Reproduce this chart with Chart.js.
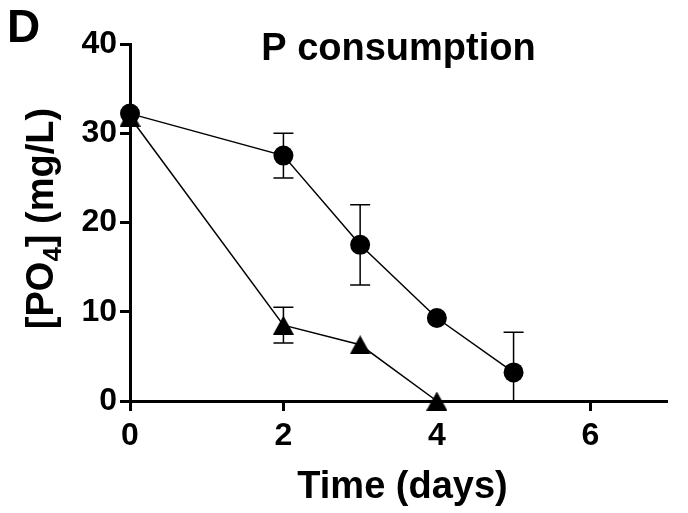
<!DOCTYPE html>
<html lang="en">

<head>
    <meta charset="UTF-8">
    <title>P consumption</title>
    <style>
        html, body { margin: 0; padding: 0; background: #fff; }
        .chart-box { width: 688px; height: 513px; }
    </style>
</head>

<body>
    <div class="chart-box">
        <canvas id="pConsumptionChart" width="688" height="513"></canvas>
    </div>

    <script src="https://cdn.jsdelivr.net/npm/chart.js@4.4.9/dist/chart.umd.min.js"></script>
    <script>
    // days sampled for each culture
    const diasCirculo = [0, 2, 3, 4, 5];
    const diasTriangulo = [0, 2, 3, 4];

    // [PO4] mean and SD (mg/L)
    const fosfatoCirculo = [32.2, 27.5, 17.5, 9.3, 3.2];
    const erroCirculo = [0, 2.5, 4.5, 0, 4.5];
    const fosfatoTriangulo = [31.8, 8.5, 6.3, 0];
    const erroTriangulo = [0, 2.0, 0, 0];

    const ticksX = [0, 2, 4, 6];
    const ticksY = [0, 10, 20, 30, 40];

    const FONTE = '"Liberation Sans", Arial, sans-serif';

    function pontos(xs, ys) {
        return xs.map((x, i) => ({ x: x, y: ys[i] }));
    }

    // filled triangle centred on its bounding box
    function simboloTriangulo(largura, altura) {
        const c = document.createElement('canvas');
        c.width = largura;
        c.height = altura;
        const g = c.getContext('2d');
        g.fillStyle = '#000';
        g.beginPath();
        g.moveTo(largura / 2, 0);
        g.lineTo(largura, altura);
        g.lineTo(0, altura);
        g.closePath();
        g.fill();
        return c;
    }

    // SD bars, drawn under the markers; lower end stops at the axis
    const barrasErro = {
        id: 'barrasErro',
        beforeDatasetsDraw(chart) {
            const ctx = chart.ctx;
            const xs = chart.scales.x;
            const ys = chart.scales.y;
            ctx.save();
            ctx.strokeStyle = '#000';
            ctx.lineWidth = 1.5;
            chart.data.datasets.forEach(ds => {
                ds.data.forEach((p, i) => {
                    const e = ds.erros[i];
                    if (!e) return;
                    const px = xs.getPixelForValue(p.x);
                    const cima = ys.getPixelForValue(p.y + e);
                    const baixoVal = p.y - e;
                    const baixo = ys.getPixelForValue(Math.max(baixoVal, 0));
                    ctx.beginPath();
                    ctx.moveTo(px, cima);
                    ctx.lineTo(px, baixo);
                    ctx.moveTo(px - 10, cima);
                    ctx.lineTo(px + 10, cima);
                    if (baixoVal >= 0) {
                        ctx.moveTo(px - 10, baixo);
                        ctx.lineTo(px + 10, baixo);
                    }
                    ctx.stroke();
                });
            });
            ctx.restore();
        }
    };

    // panel letter, title and axis titles
    const textos = {
        id: 'textos',
        afterDraw(chart) {
            const ctx = chart.ctx;
            const area = chart.chartArea;
            const centroX = (area.left + area.right) / 2;
            ctx.save();
            ctx.fillStyle = '#000';
            ctx.textBaseline = 'alphabetic';

            ctx.font = 'bold 46px ' + FONTE;
            ctx.textAlign = 'left';
            ctx.fillText('D', 7, 42);

            ctx.font = 'bold 38px ' + FONTE;
            ctx.textAlign = 'center';
            ctx.fillText('P consumption', centroX, 60);

            ctx.fillText('Time (days)', centroX + 4, 498);

            // [PO4] (mg/L) with subscript, rotated
            ctx.translate(53, (area.top + area.bottom) / 2 - 4);
            ctx.rotate(-Math.PI / 2);
            const grande = 'bold 38px ' + FONTE;
            const pequeno = 'bold 26px ' + FONTE;
            const partes = [
                { t: '[PO', f: grande, dy: 0 },
                { t: '4', f: pequeno, dy: 8 },
                { t: '] (mg/L)', f: grande, dy: 0 }
            ];
            let total = 0;
            partes.forEach(p => { ctx.font = p.f; p.w = ctx.measureText(p.t).width; total += p.w; });
            let x = -total / 2;
            ctx.textAlign = 'left';
            partes.forEach(p => {
                ctx.font = p.f;
                ctx.fillText(p.t, x, p.dy);
                x += p.w;
            });
            ctx.restore();
        }
    };

    const ctx = document.getElementById('pConsumptionChart').getContext('2d');

    new Chart(ctx, {
        type: 'line',
        data: {
            datasets: [{
                label: 'circle',
                data: pontos(diasCirculo, fosfatoCirculo),
                erros: erroCirculo,
                borderColor: '#000',
                backgroundColor: '#000',
                borderWidth: 1.5,
                pointStyle: 'circle',
                pointRadius: 10,
                pointBorderWidth: 0,
                tension: 0,
                clip: false
            }, {
                label: 'triangle',
                data: pontos(diasTriangulo, fosfatoTriangulo),
                erros: erroTriangulo,
                borderColor: '#000',
                backgroundColor: '#000',
                borderWidth: 1.5,
                pointStyle: simboloTriangulo(21, 19),
                pointRadius: 10,
                tension: 0,
                clip: false
            }]
        },
        options: {
            responsive: false,
            animation: false,
            layout: {
                padding: { top: 44, right: 21, bottom: 0, left: 0 }
            },
            plugins: {
                legend: { display: false },
                tooltip: { enabled: false },
                title: { display: false }
            },
            scales: {
                x: {
                    type: 'linear',
                    min: 0,
                    max: 7,
                    afterBuildTicks: s => { s.ticks = ticksX.map(v => ({ value: v })); },
                    afterFit: s => { s.height = 112; },
                    border: { display: true, color: '#000', width: 3 },
                    grid: { drawOnChartArea: false, drawTicks: true, tickLength: 10, tickWidth: 3, tickColor: '#000' },
                    ticks: {
                        color: '#000',
                        padding: 6,
                        maxRotation: 0,
                        font: { family: FONTE, size: 32, weight: 'bold' }
                    }
                },
                y: {
                    type: 'linear',
                    min: 0,
                    max: 40,
                    afterBuildTicks: s => { s.ticks = ticksY.map(v => ({ value: v })); },
                    afterFit: s => { s.width = 130; },
                    border: { display: true, color: '#000', width: 3 },
                    grid: { drawOnChartArea: false, drawTicks: true, tickLength: 10, tickWidth: 3, tickColor: '#000' },
                    ticks: {
                        color: '#000',
                        padding: 3,
                        font: { family: FONTE, size: 32, weight: 'bold' }
                    }
                }
            }
        },
        plugins: [barrasErro, textos]
    });
    </script>
</body>

</html>
